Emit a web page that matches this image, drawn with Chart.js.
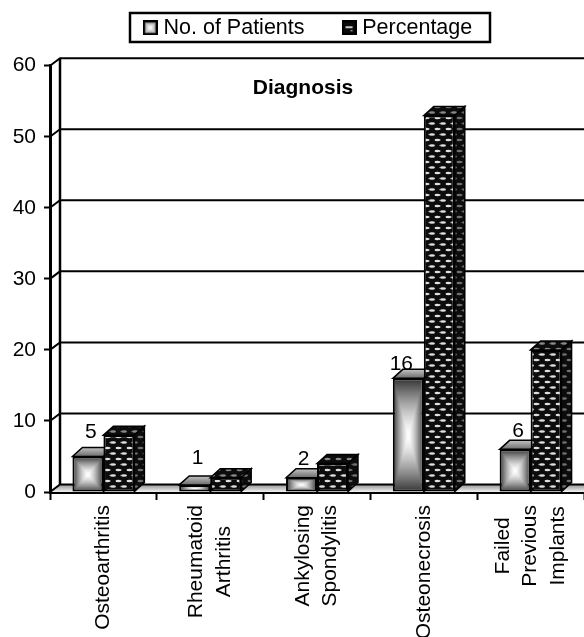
<!DOCTYPE html>
<html><head><meta charset="utf-8">
<style>html,body{margin:0;padding:0;background:#fff}canvas{display:block}</style>
<script src="https://cdn.jsdelivr.net/npm/chart.js@4"></script>
</head><body>
<div style="width:584px;height:637px"><canvas id="c" width="584" height="637"></canvas></div>
<script>
const categories = ["Osteoarthritis", ["Rheumatoid","Arthritis"], ["Ankylosing","Spondylitis"], "Osteonecrosis", ["Failed","Previous","Implants"]];
const patients = [5, 1, 2, 16, 6];
const percentage = [8, 2, 4, 53, 20];
const seriesNames = ["No. of Patients", "Percentage"];
const titleText = "Diagnosis";
const FONT = '"Liberation Sans", Arial, sans-serif';
const labelNudge = [[3,24],[3,27],[2,19],[-7,14],[3,18]];
const DX = 10, DY = 9;

function shingle(bg, dot) {
  const t = document.createElement('canvas'); t.width = 11; t.height = 11;
  const g = t.getContext('2d');
  g.fillStyle = bg; g.fillRect(0,0,11,11);
  g.fillStyle = dot;
  [[3,2.5],[8.5,8],[-2.5,8],[13.5,2.5]].forEach(([x,y]) => {
    g.beginPath(); g.ellipse(x,y,3,1.3,0,0,Math.PI*2); g.fill();
  });
  return t;
}
const pctFront = document.createElement('canvas').getContext('2d').createPattern(shingle('#0c0c0c','#e0e0e0'),'repeat');
const pctSide = document.createElement('canvas').getContext('2d').createPattern(shingle('#0c0c0c','#707070'),'repeat');
const pctTop = document.createElement('canvas').getContext('2d').createPattern(shingle('#0c0c0c','#8a8a8a'),'repeat');

function boxGradient(w, h, lo) {
  w = Math.max(1, Math.round(w)); h = Math.max(1, Math.round(h));
  const t = document.createElement('canvas'); t.width = w; t.height = h;
  const g = t.getContext('2d'); const d = g.createImageData(w, h);
  for (let y = 0; y < h; y++) for (let x = 0; x < w; x++) {
    const q = Math.max(Math.abs(x+.5-w/2)/(w/2), Math.abs(y+.5-h/2)/(h/2));
    const v = 255 - (255-lo)*Math.pow(q,1.4), i = (y*w+x)*4;
    d.data[i]=d.data[i+1]=d.data[i+2]=v; d.data[i+3]=255;
  }
  g.putImageData(d,0,0);
  return t;
}
function patientFill(ctx) {
  if (ctx.type !== 'data' || !ctx.chart.scales.y) return '#888';
  const {x, y} = ctx.chart.scales;
  const top = y.getPixelForValue(ctx.parsed.y), base = y.getPixelForValue(0);
  const w = x.width / categories.length * 0.58 / 2;
  const left = x.getPixelForValue(ctx.dataIndex) - w;
  const p = ctx.chart.ctx.createPattern(boxGradient(w, base-top, 50), 'no-repeat');
  p.setTransform(new DOMMatrix().translate(left, top));
  return p;
}
function swatch(kind) {
  const t = document.createElement('canvas'); t.width = 15; t.height = 15;
  const g = t.getContext('2d');
  if (kind === 0) { g.drawImage(boxGradient(15,15,90),0,0); }
  else { g.fillStyle='#0c0c0c'; g.fillRect(0,0,15,15); g.fillStyle='#ccc'; g.fillRect(4,6,7,2); g.fillRect(9,10,2,1); }
  g.strokeStyle='#000'; g.lineWidth=2.5; g.strokeRect(1,1,13,13);
  return t;
}
const swatches = [swatch(0), swatch(1)];

const scene = {
  id: 'scene',
  afterLayout(chart) {
    const t = chart.titleBlock, l = chart.legend;
    const th = t.bottom - t.top, lh = l.bottom - l.top;
    t.left += 22; t.top = 76; t.bottom = 76 + th;
    l.left += 36; l.top = -25; l.bottom = -25 + lh;
  },
  beforeDatasetsDraw(chart) {
    const c = chart.ctx, {x, y} = chart.scales, L = x.left, R = x.right, B = y.getPixelForValue(0);
    c.save();
    const fl = c.createLinearGradient(0, B-8, 0, B);
    fl.addColorStop(0,'#8c8c8c'); fl.addColorStop(1,'#f2f2f2');
    c.fillStyle = fl;
    c.beginPath(); c.moveTo(L,B); c.lineTo(L+DX,B-8); c.lineTo(R,B-8); c.lineTo(R,B); c.closePath(); c.fill();
    c.strokeStyle = '#000'; c.lineWidth = 2;
    y.ticks.forEach(t => {
      const p = y.getPixelForValue(t.value);
      c.beginPath(); c.moveTo(L,p); c.lineTo(L+DX,p-7.5); c.lineTo(R,p-7.5); c.stroke();
    });
    c.lineWidth = 2.5;
    c.beginPath(); c.moveTo(L+DX,y.getPixelForValue(60)-7.5); c.lineTo(L+DX,B-7.5); c.stroke();
    c.lineWidth = 1.5;
    [0,1].forEach(ds => {
      chart.getDatasetMeta(ds).data.forEach(b => {
        const l = b.x - b.width/2, r = b.x + b.width/2, tp = b.y, bs = b.base;
        c.beginPath(); c.moveTo(l,tp); c.lineTo(l+DX,tp-DY); c.lineTo(r+DX,tp-DY); c.lineTo(r,tp); c.closePath();
        if (ds === 0) {
          const g = c.createLinearGradient(0,tp-DY,0,tp);
          g.addColorStop(0,'#c4c4c4'); g.addColorStop(1,'#6a6a6a');
          c.fillStyle = g;
        } else c.fillStyle = pctTop;
        c.fill(); c.stroke();
        c.beginPath(); c.moveTo(r,tp); c.lineTo(r+DX,tp-DY); c.lineTo(r+DX,bs-DY); c.lineTo(r,bs); c.closePath();
        c.fillStyle = ds === 0 ? '#444' : pctSide;
        c.fill(); c.stroke();
      });
    });
    c.restore();
  },
  afterDatasetsDraw(chart) {
    const c = chart.ctx;
    c.save();
    c.fillStyle = '#000'; c.font = '21px ' + FONT; c.textAlign = 'center'; c.textBaseline = 'middle';
    chart.getDatasetMeta(0).data.forEach((b,i) => {
      c.fillText(String(patients[i]), b.x + labelNudge[i][0], b.y - labelNudge[i][1]);
    });
    c.restore();
  },
  afterDraw(chart) {
    const c = chart.ctx;
    c.save(); c.strokeStyle = '#000'; c.lineWidth = 2.5;
    c.strokeRect(130, 13, 360, 29);
    c.restore();
  }
};

new Chart(document.getElementById('c'), {
  type: 'bar',
  data: { labels: categories, datasets: [
    { label: seriesNames[0], data: patients, backgroundColor: patientFill, borderColor:'#000', borderWidth:2, borderSkipped:false, categoryPercentage:0.58, barPercentage:1 },
    { label: seriesNames[1], data: percentage, backgroundColor: pctFront, borderColor:'#000', borderWidth:2, borderSkipped:false, categoryPercentage:0.58, barPercentage:1 }
  ]},
  plugins: [scene],
  options: {
    responsive: false, animation: false,
    layout: { padding: { left: 0, right: 0, top: -33, bottom: 0 } },
    plugins: {
      tooltip: { enabled: false },
      title: { display: true, text: titleText, color:'#000', font: { family: FONT, size: 21, weight: 'bold', lineHeight: 1.2 }, padding: { top: 0, bottom: 0 } },
      legend: {
        position: 'top',
        labels: {
          color:'#000', font: { family: FONT, size: 21.5 }, usePointStyle: true, boxWidth: 5, boxHeight: 15, padding: 42,
          generateLabels: () => seriesNames.map((n,i) => ({ text:n, pointStyle:swatches[i], datasetIndex:i, fillStyle:'#000', strokeStyle:'#000', lineWidth:0 }))
        }
      }
    },
    scales: {
      x: {
        grid: { drawOnChartArea:false, drawTicks:true, tickLength:8, tickColor:'#000', tickWidth:2, offset:true },
        border: { display:true, color:'#000', width:3 },
        ticks: { color:'#000', autoSkip:false, minRotation:90, maxRotation:90, padding:5, font:{ family:FONT, size:21, lineHeight:1.3 } },
        afterFit(s) {
          s.height = 145; s.paddingLeft = 0; s.paddingRight = 0;
          if (!s._centered) {
            s._centered = true;
            const base = s._computeLabelItems.bind(s);
            s._computeLabelItems = area => base(area).map((it,i) => {
              const lines = Array.isArray(it.label) ? it.label : [it.label];
              const c = s.ctx; c.save(); c.font = it.font.string;
              const w = Math.max(...lines.map(t => c.measureText(t).width)); c.restore();
              const lh = it.font.lineHeight;
              it.textOffset = -(lines.length-1)/2*lh;
              it.options.textAlign = 'center';
              it.options.translation = [s.getPixelForTick(i), it.options.translation[1] + w/2];
              return it;
            });
          }
        }
      },
      y: {
        min:0, max:60,
        grid: { drawOnChartArea:false, drawTicks:true, tickLength:6, tickColor:'#000', tickWidth:2 },
        border: { display:true, color:'#000', width:3 },
        ticks: { stepSize:10, color:'#000', padding:8, font:{ family:FONT, size:21 } },
        afterFit(s) { s.width = 50; s.paddingTop = 0; s.paddingBottom = 0; }
      }
    }
  }
});
</script>
</body></html>
